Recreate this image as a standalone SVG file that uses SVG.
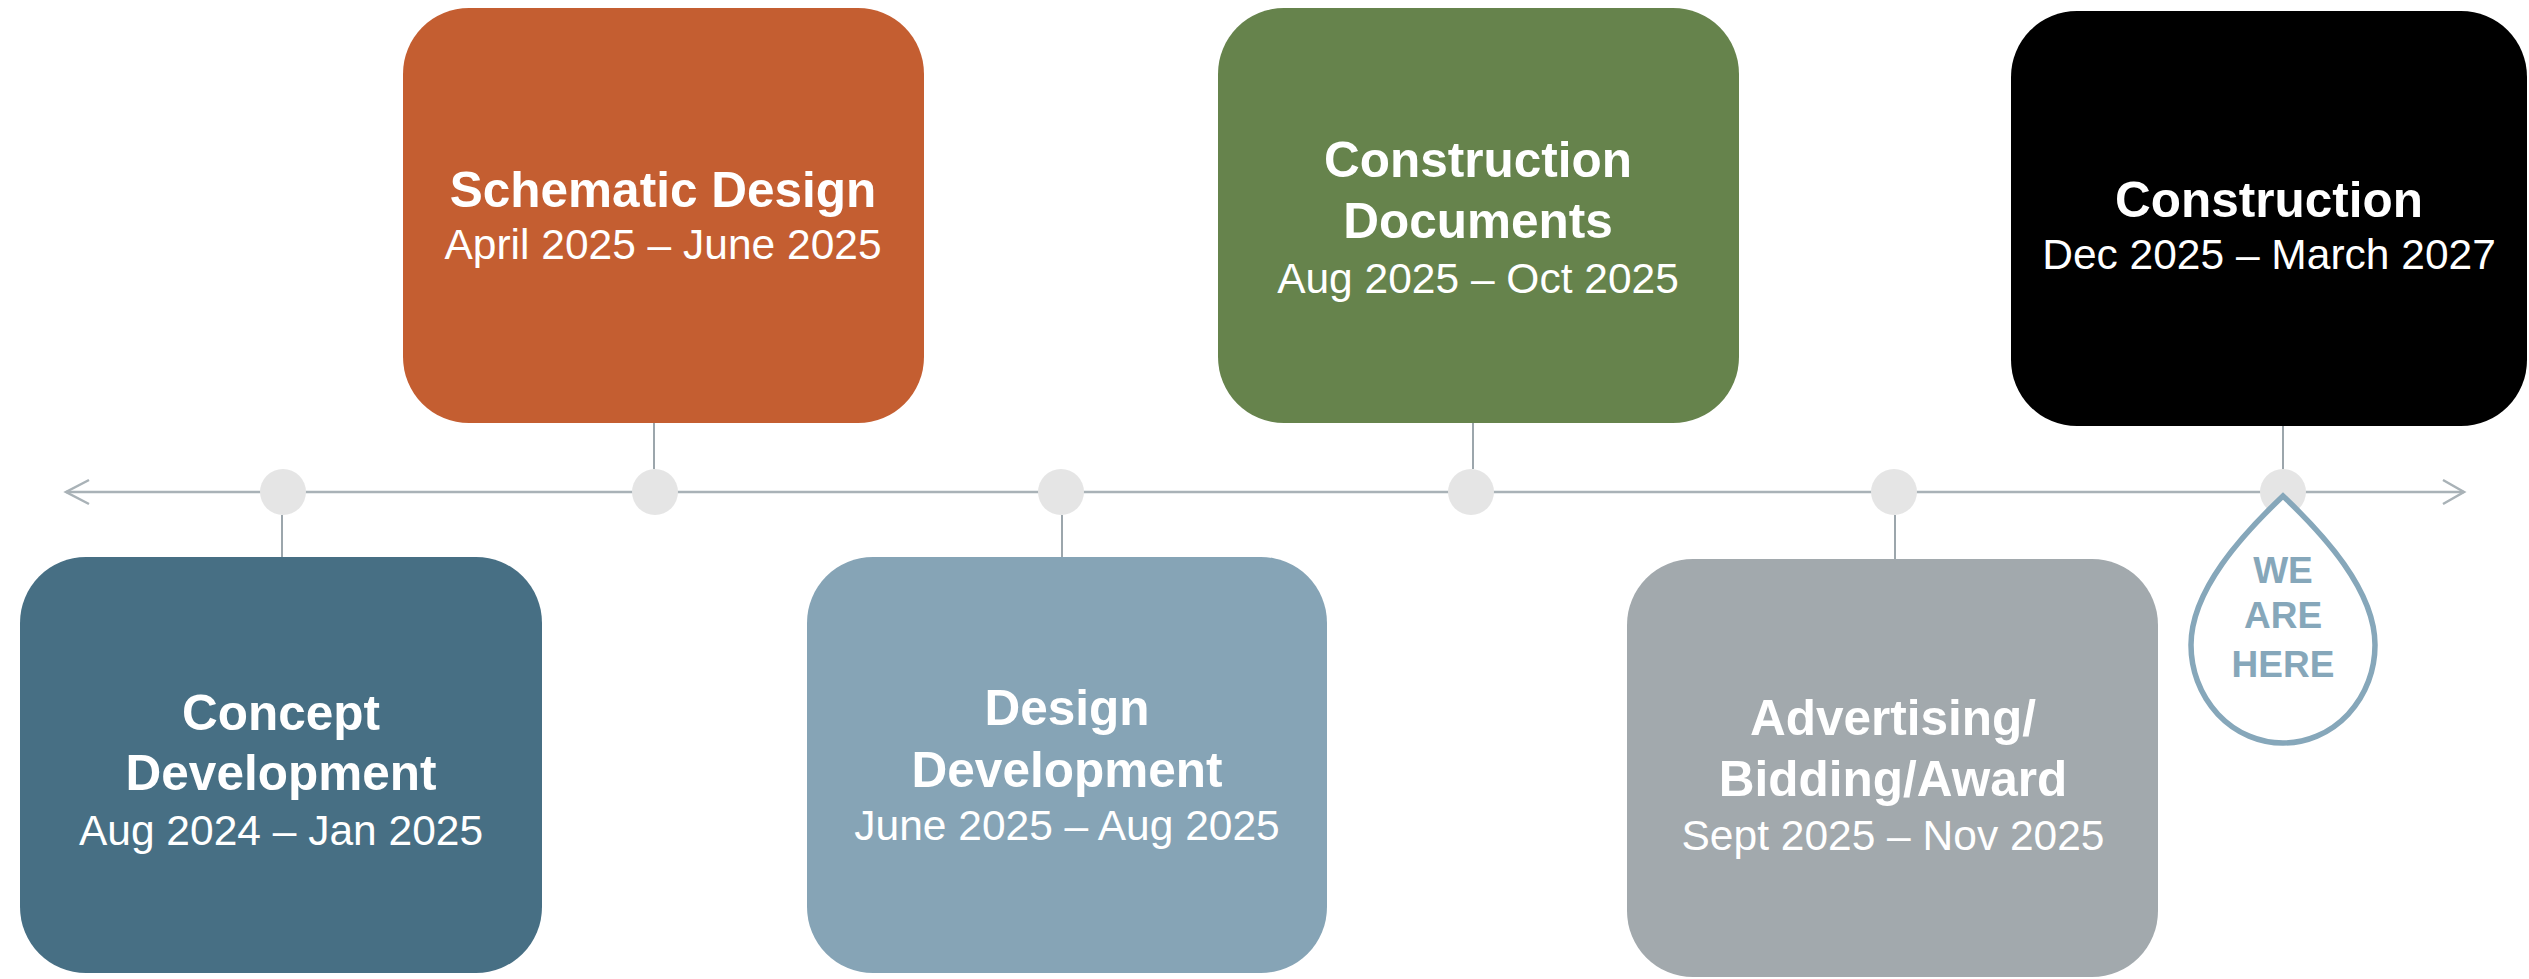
<svg xmlns="http://www.w3.org/2000/svg" width="2529" height="979" viewBox="0 0 2529 979">
<defs>
<style>
.t{font-family:"Liberation Sans",Arial,sans-serif;font-weight:bold;font-size:49.5px;fill:#fff;text-anchor:middle}
.d{font-family:"Liberation Sans",Arial,sans-serif;font-size:42.5px;fill:#fff;text-anchor:middle}
.w{font-family:"Liberation Sans",Arial,sans-serif;font-weight:bold;font-size:37px;fill:#86A7BA;text-anchor:middle}
.ax{stroke:#A9B2B7;stroke-width:2.5;fill:none}
.cn{stroke:#9CA6AC;stroke-width:2;fill:none}
.dot{fill:#E5E5E5}
</style>
</defs>
<rect width="2529" height="979" fill="#fff"/>
<g id="connectors">
<line class="ax" x1="66" y1="492" x2="2464" y2="492"/>
<polyline class="ax" points="89,480 66,492 89,504"/>
<polyline class="ax" points="2443,480 2464,492 2443,504"/>
<line class="cn" x1="282" y1="515" x2="282" y2="557"/>
<line class="cn" x1="654" y1="423" x2="654" y2="469"/>
<line class="cn" x1="1062" y1="515" x2="1062" y2="557"/>
<line class="cn" x1="1473" y1="423" x2="1473" y2="469"/>
<line class="cn" x1="1895" y1="515" x2="1895" y2="559"/>
<line class="cn" x1="2283" y1="426" x2="2283" y2="469"/>
<circle class="dot" cx="283" cy="492" r="23"/>
<circle class="dot" cx="655" cy="492" r="23"/>
<circle class="dot" cx="1061" cy="492" r="23"/>
<circle class="dot" cx="1471" cy="492" r="23"/>
<circle class="dot" cx="1894" cy="492" r="23"/>
<circle class="dot" cx="2283" cy="492" r="23"/>
</g>
<g id="concept">
<rect x="20" y="557" width="522" height="416" rx="66" fill="#476F84"/>
<text class="t" x="281" y="730">Concept</text>
<text class="t" x="281" y="790">Development</text>
<text class="d" x="281" y="845">Aug 2024 – Jan 2025</text>
</g>
<g id="schematic">
<rect x="403" y="8" width="521" height="415" rx="66" fill="#C45E31"/>
<text class="t" x="663" y="207">Schematic Design</text>
<text class="d" x="663" y="259">April 2025 – June 2025</text>
</g>
<g id="design">
<rect x="807" y="557" width="520" height="416" rx="66" fill="#86A4B6"/>
<text class="t" x="1067" y="725">Design</text>
<text class="t" x="1067" y="787">Development</text>
<text class="d" x="1067" y="840">June 2025 – Aug 2025</text>
</g>
<g id="construction-documents">
<rect x="1218" y="8" width="521" height="415" rx="66" fill="#66834C"/>
<text class="t" x="1478" y="177">Construction</text>
<text class="t" x="1478" y="238">Documents</text>
<text class="d" x="1478" y="293">Aug 2025 – Oct 2025</text>
</g>
<g id="advertising">
<rect x="1627" y="559" width="531" height="418" rx="66" fill="#A2A9AD"/>
<text class="t" x="1893" y="735">Advertising/</text>
<text class="t" x="1893" y="796">Bidding/Award</text>
<text class="d" x="1893" y="850">Sept 2025 – Nov 2025</text>
</g>
<g id="construction">
<rect x="2011" y="11" width="516" height="415" rx="66" fill="#000"/>
<text class="t" x="2269" y="217">Construction</text>
<text class="d" x="2269" y="269">Dec 2025 – March 2027</text>
</g>
<g id="we-are-here">
<path d="M2283 496 C2323 534 2375 590 2375 645 A92 98 0 0 1 2191 645 C2191 590 2243 534 2283 496 Z" fill="#fff" stroke="#86A7BA" stroke-width="5.5" stroke-linejoin="miter"/>
<text class="w" x="2283" y="583">WE</text>
<text class="w" x="2283" y="628">ARE</text>
<text class="w" x="2283" y="677">HERE</text>
</g>
</svg>
